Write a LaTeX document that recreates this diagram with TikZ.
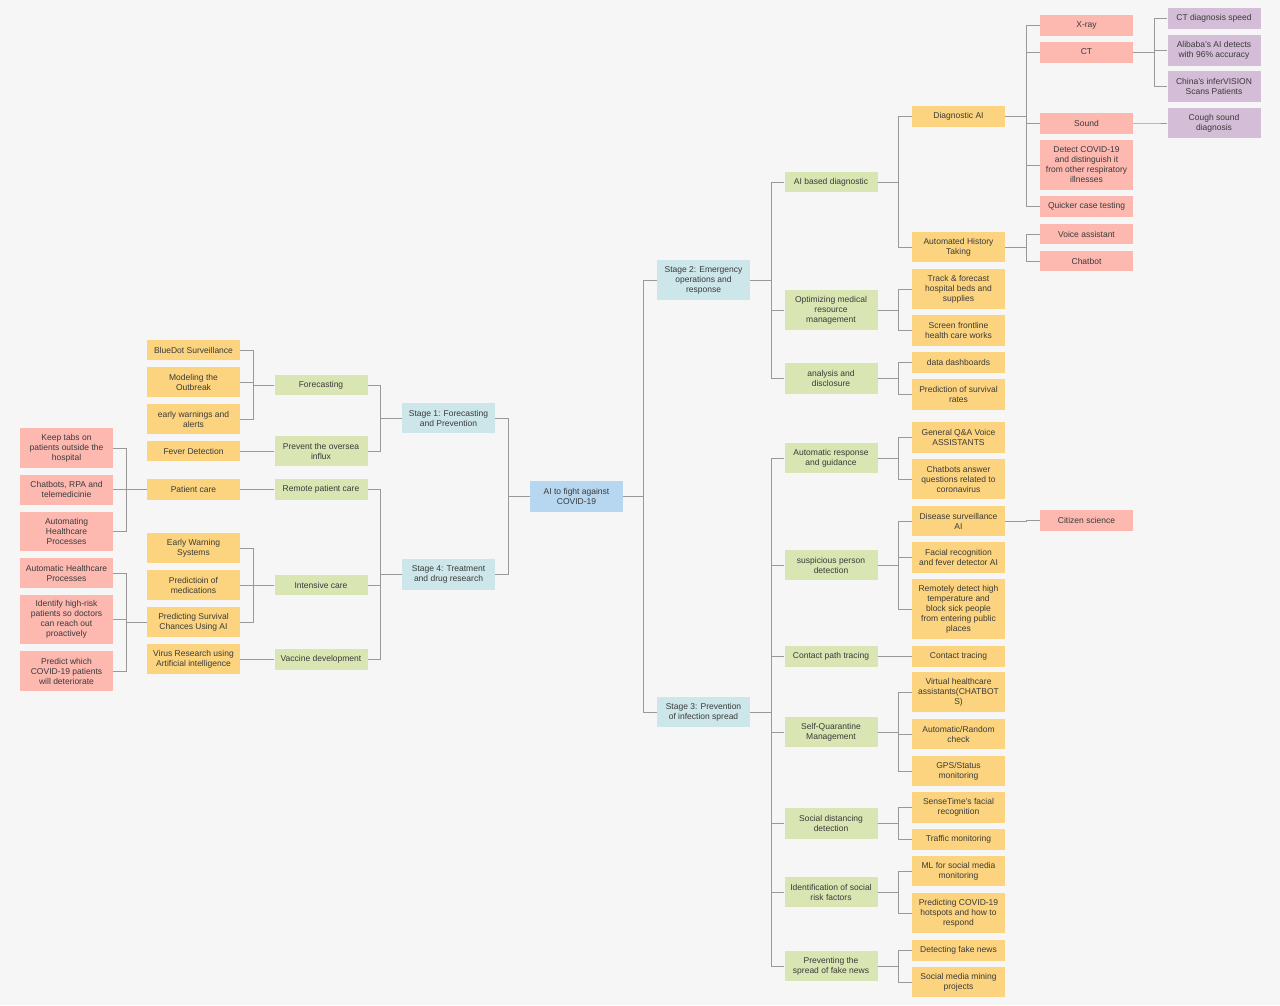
\documentclass[tikz,border=0pt]{standalone}
\usepackage{fontspec}
\setmainfont{Liberation Sans}
\usetikzlibrary{positioning}

\definecolor{bgc}{HTML}{F6F6F6}
\definecolor{rootc}{HTML}{B7D6EF}
\definecolor{stagec}{HTML}{CDE6EA}
\definecolor{greenc}{HTML}{D9E5B2}
\definecolor{yelc}{HTML}{FCD47F}
\definecolor{redc}{HTML}{FDB8B0}
\definecolor{purc}{HTML}{D4BDD6}
\definecolor{linec}{HTML}{999999}
\definecolor{txtc}{HTML}{3A3A3A}

\tikzset{
  box/.style={minimum width=93pt, inner sep=1pt, align=center, text=txtc,
    font=\fontsize{8.5}{10}\selectfont},
  rootbox/.style={box, fill=rootc},
  stagebox/.style={box, fill=stagec},
  greenbox/.style={box, fill=greenc},
  yelbox/.style={box, fill=yelc},
  redbox/.style={box, fill=redc},
  purbox/.style={box, fill=purc},
  conn/.style={draw=linec, line width=0.9pt},
}

% elbow connectors: parent to a child on its right / on its left
\newcommand\linkR[2]{\draw[conn] (#1.east) -| ([xshift=-13pt]#2.west) -- (#2.west);}
\newcommand\linkL[2]{\draw[conn] (#1.west) -| ([xshift=13pt]#2.east) -- (#2.east);}

\begin{document}
\begin{tikzpicture}[x=1pt, y=-1pt]
\fill[bgc] (0,0) rectangle (1280,1005);
\useasboundingbox (0,0) rectangle (1280,1005);

% ---------- centre ----------
\node[rootbox, minimum height=31pt] (root) at (576.5,496.5) {AI to fight against\\COVID-19};

% ---------- left half ----------
\node[stagebox, minimum height=30pt] (s1) at (448.5,418) {Stage 1: Forecasting\\and Prevention};
\node[stagebox, minimum height=31pt] (s4) at (448.5,574.5) {Stage 4: Treatment\\and drug research};

\node[greenbox, minimum height=20pt] (fore) at (321,385) {Forecasting};
\node[greenbox, minimum height=30pt] (prev) at (321,451) {Prevent the oversea\\influx};
\node[greenbox, minimum height=21pt] (remote) at (321,489.5) {Remote patient care};
\node[greenbox, minimum height=20pt] (icare) at (321,585) {Intensive care};
\node[greenbox, minimum height=21pt] (vacc) at (321,659) {Vaccine development};

\node[yelbox, minimum height=20pt] (bluedot) at (193.5,350) {BlueDot Surveillance};
\node[yelbox, minimum height=30pt] (model) at (193.5,382) {Modeling the\\Outbreak};
\node[yelbox, minimum height=30pt] (early) at (193.5,419) {early warnings and\\alerts};
\node[yelbox, minimum height=20pt] (fever) at (193.5,451) {Fever Detection};
\node[yelbox, minimum height=21pt] (pcare) at (193.5,489.5) {Patient care};
\node[yelbox, minimum height=30pt] (ews) at (193.5,548) {Early Warning\\Systems};
\node[yelbox, minimum height=30pt] (pmed) at (193.5,585) {Predictioin of\\medications};
\node[yelbox, minimum height=30pt] (psurv) at (193.5,622) {Predicting Survival\\Chances Using AI};
\node[yelbox, minimum height=30pt] (virus) at (193.5,659) {Virus Research using\\Artificial intelligence};

\node[redbox, minimum height=40pt] (tabs) at (66.5,448) {Keep tabs on\\patients outside the\\hospital};
\node[redbox, minimum height=30pt] (rpa) at (66.5,489.5) {Chatbots, RPA and\\telemedicinie};
\node[redbox, minimum height=39pt] (autom) at (66.5,531.5) {Automating\\Healthcare\\Processes};
\node[redbox, minimum height=30pt] (autohc) at (66.5,573) {Automatic Healthcare\\Processes};
\node[redbox, minimum height=49pt] (ident) at (66.5,619.5) {Identify high-risk\\patients so doctors\\can reach out\\proactively};
\node[redbox, minimum height=40pt] (pwhich) at (66.5,671) {Predict which\\COVID-19 patients\\will deteriorate};

% ---------- right half ----------
\node[stagebox, minimum height=40pt] (s2) at (703.5,280) {Stage 2: Emergency\\operations and\\response};
\node[stagebox, minimum height=30pt] (s3) at (703.5,712) {Stage 3: Prevention\\of infection spread};

\node[greenbox, minimum height=20pt] (aidiag) at (831,182) {AI based diagnostic};
\node[greenbox, minimum height=40pt] (optim) at (831,310) {Optimizing medical\\resource\\management};
\node[greenbox, minimum height=31pt] (anal) at (831,378.5) {analysis and\\disclosure};
\node[greenbox, minimum height=30pt] (autoresp) at (831,458) {Automatic response\\and guidance};
\node[greenbox, minimum height=30pt] (susp) at (831,565) {suspicious person\\detection};
\node[greenbox, minimum height=21pt] (cpath) at (831,656) {Contact path tracing};
\node[greenbox, minimum height=30pt] (selfq) at (831,732) {Self-Quarantine\\Management};
\node[greenbox, minimum height=31pt] (sdist) at (831,823.5) {Social distancing\\detection};
\node[greenbox, minimum height=30pt] (srisk) at (831,892) {Identification of social\\risk factors};
\node[greenbox, minimum height=30pt] (fake) at (831,966) {Preventing the\\spread of fake news};

\node[yelbox, minimum height=21pt] (diagai) at (958.5,116) {Diagnostic AI};
\node[yelbox, minimum height=30pt] (ahist) at (958.5,247) {Automated History\\Taking};
\node[yelbox, minimum height=40pt] (track) at (958.5,289) {Track \& forecast\\hospital beds and\\supplies};
\node[yelbox, minimum height=31pt] (screen) at (958.5,330.5) {Screen frontline\\health care works};
\node[yelbox, minimum height=21pt] (dash) at (958.5,362.5) {data dashboards};
\node[yelbox, minimum height=31pt] (psrate) at (958.5,394.5) {Prediction of survival\\rates};
\node[yelbox, minimum height=31pt] (qa) at (958.5,437) {General Q\&A Voice\\ASSISTANTS};
\node[yelbox, minimum height=40pt] (cbans) at (958.5,479) {Chatbots answer\\questions related to\\coronavirus};
\node[yelbox, minimum height=30pt] (dsurv) at (958.5,521) {Disease surveillance\\AI};
\node[yelbox, minimum height=31pt] (facial) at (958.5,557.5) {Facial recognition\\and fever detector AI};
\node[yelbox, minimum height=60pt] (remotely) at (958.5,609) {Remotely detect high\\temperature and\\block sick people\\from entering public\\places};
\node[yelbox, minimum height=21pt] (ctrace) at (958.5,656) {Contact tracing};
\node[yelbox, minimum height=40pt] (virt) at (958.5,692) {Virtual healthcare\\assistants(CHATBOT\\S)};
\node[yelbox, minimum height=30pt] (arand) at (958.5,734) {Automatic/Random\\check};
\node[yelbox, minimum height=30pt] (gps) at (958.5,771) {GPS/Status\\monitoring};
\node[yelbox, minimum height=31pt] (sense) at (958.5,807.5) {SenseTime's facial\\recognition};
\node[yelbox, minimum height=21pt] (traffic) at (958.5,839.5) {Traffic monitoring};
\node[yelbox, minimum height=30pt] (mlsm) at (958.5,871) {ML for social media\\monitoring};
\node[yelbox, minimum height=40pt] (hot) at (958.5,913) {Predicting COVID-19\\hotspots and how to\\respond};
\node[yelbox, minimum height=21pt] (dfake) at (958.5,950) {Detecting fake news};
\node[yelbox, minimum height=30pt] (smm) at (958.5,982) {Social media mining\\projects};

\node[redbox, minimum height=21pt] (xray) at (1086.5,25) {X-ray};
\node[redbox, minimum height=21pt] (ct) at (1086.5,52) {CT};
\node[redbox, minimum height=21pt] (sound) at (1086.5,123) {Sound};
\node[redbox, minimum height=50pt] (detect) at (1086.5,165) {Detect COVID-19\\and distinguish it\\from other respiratory\\illnesses};
\node[redbox, minimum height=21pt] (quick) at (1086.5,206.5) {Quicker case testing};
\node[redbox, minimum height=20pt] (voice) at (1086.5,234) {Voice assistant};
\node[redbox, minimum height=20pt] (chatbot) at (1086.5,261) {Chatbot};
\node[redbox, minimum height=21pt] (citizen) at (1086.5,520.5) {Citizen science};

\node[purbox, minimum height=21pt] (ctspeed) at (1214,18) {CT diagnosis speed};
\node[purbox, minimum height=31pt] (alibaba) at (1214,50) {Alibaba's AI detects\\with 96\% accuracy};
\node[purbox, minimum height=31pt] (infer) at (1214,86) {China's inferVISION\\Scans Patients};
\node[purbox, minimum height=30pt] (cough) at (1214,123) {Cough sound\\diagnosis};

% ---------- connectors, left half ----------
\linkL{root}{s1}  \linkL{root}{s4}
\linkL{s1}{fore}  \linkL{s1}{prev}
\linkL{s4}{remote} \linkL{s4}{icare} \linkL{s4}{vacc}
\linkL{fore}{bluedot} \linkL{fore}{model} \linkL{fore}{early}
\linkL{prev}{fever}
\linkL{remote}{pcare}
\linkL{icare}{ews} \linkL{icare}{pmed} \linkL{icare}{psurv}
\linkL{vacc}{virus}
\linkL{pcare}{tabs} \linkL{pcare}{rpa} \linkL{pcare}{autom}
\linkL{psurv}{autohc} \linkL{psurv}{ident} \linkL{psurv}{pwhich}

% ---------- connectors, right half ----------
\linkR{root}{s2} \linkR{root}{s3}
\linkR{s2}{aidiag} \linkR{s2}{optim} \linkR{s2}{anal}
\linkR{s3}{autoresp} \linkR{s3}{susp} \linkR{s3}{cpath} \linkR{s3}{selfq}
\linkR{s3}{sdist} \linkR{s3}{srisk} \linkR{s3}{fake}
\linkR{aidiag}{diagai} \linkR{aidiag}{ahist}
\linkR{optim}{track} \linkR{optim}{screen}
\linkR{anal}{dash} \linkR{anal}{psrate}
\linkR{autoresp}{qa} \linkR{autoresp}{cbans}
\linkR{susp}{dsurv} \linkR{susp}{facial} \linkR{susp}{remotely}
\linkR{cpath}{ctrace}
\linkR{selfq}{virt} \linkR{selfq}{arand} \linkR{selfq}{gps}
\linkR{sdist}{sense} \linkR{sdist}{traffic}
\linkR{srisk}{mlsm} \linkR{srisk}{hot}
\linkR{fake}{dfake} \linkR{fake}{smm}
\linkR{diagai}{xray} \linkR{diagai}{ct} \linkR{diagai}{sound}
\linkR{diagai}{detect} \linkR{diagai}{quick}
\linkR{ahist}{voice} \linkR{ahist}{chatbot}
\linkR{dsurv}{citizen}
\linkR{ct}{ctspeed} \linkR{ct}{alibaba} \linkR{ct}{infer}
\linkR{sound}{cough}
\end{tikzpicture}
\end{document}
